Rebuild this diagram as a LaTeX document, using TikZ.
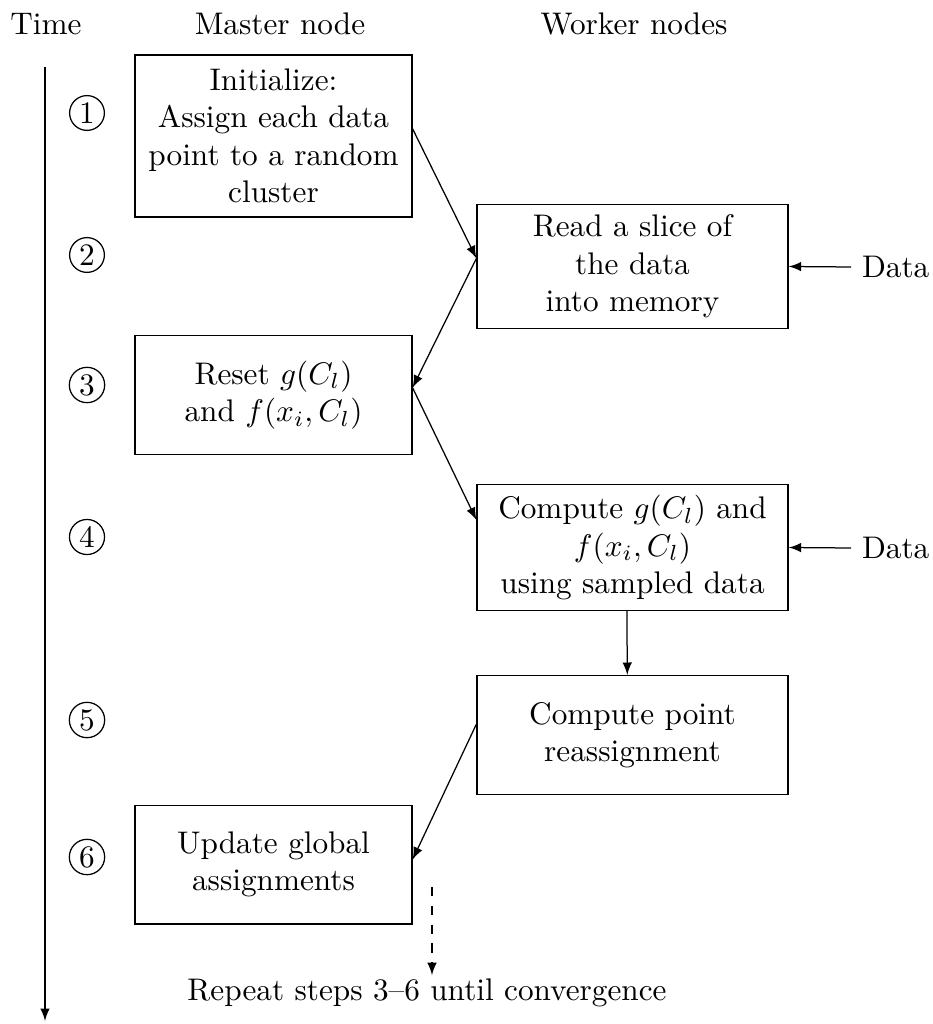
\documentclass[tikz,border=0pt]{standalone}

\begin{document}
\begin{tikzpicture}[
        x=0.32pt, y=-0.32pt,
        box/.style={draw, align=center, minimum width=88.6pt, minimum height=38pt},
        wide/.style={box, minimum width=99.5pt},
        num/.style={circle, draw, inner sep=1pt},
    ]

    \useasboundingbox (0,0) rectangle (932,1024);

    \node (time) at (46,24) {Time};
    \node (master) at (280,24) {Master node};
    \node (worker) at (634,24) {Worker nodes};

    \coordinate (ttop) at (45,67);
    \coordinate (tbot) at (45,1021);
    \draw[-latex] (ttop) -- (tbot);

    \node[num] (n1) at (87,113) {1};
    \node[num] (n2) at (87,255) {2};
    \node[num] (n3) at (87,385) {3};
    \node[num] (n4) at (87,537) {4};
    \node[num] (n5) at (87,720) {5};
    \node[num] (n6) at (87,857) {6};

    \node[box, minimum height=51.8pt] (init) at (273.5,136) {Initialize:\\Assign each data\\point to a random\\cluster};
    \node[wide] (read) at (632.5,266.5) {Read a slice of\\the data\\into memory};
    \node[box] (reset) at (273.5,395) {Reset $g(C_l)$\\and $f(x_i,C_l)$};
    \node[wide] (compute) at (632.5,547.5) {Compute $g(C_l)$ and\\$f(x_i,C_l)$\\using sampled data};
    \node[wide] (reassign) at (632.5,735) {Compute point\\reassignment};
    \node[box] (update) at (273.5,864.5) {Update global\\assignments};

    \node[anchor=west] (data1) at (851,267) {Data};
    \node[anchor=west] (data2) at (851,548) {Data};

    \path[-latex]
    (init.3) edge (read.177)
    (read.177) edge (reset.3)
    (reset.3) edge (compute.170)
    (compute.265) edge (reassign.95)
    (reassign.176) edge (update.2)
    (data1.west) edge (read.east)
    (data2.west) edge (compute.east)
    ;

    \node[inner sep=1pt] (repeat) at (427,993) {Repeat steps 3--6 until convergence};
    \coordinate (dtop) at (432,887);
    \draw[dashed, -latex] (dtop) -- (repeat.north -| dtop);
\end{tikzpicture}
\end{document}
